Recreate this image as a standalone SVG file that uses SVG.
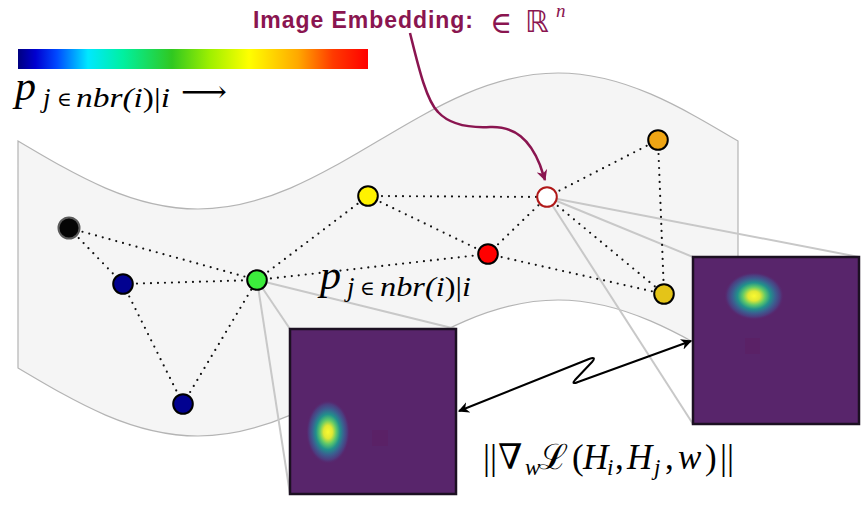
<svg xmlns="http://www.w3.org/2000/svg" width="863" height="508" viewBox="0 0 863 508">
<defs>
<linearGradient id="jet" x1="0" y1="0" x2="1" y2="0">
<stop offset="0" stop-color="#000080"/>
<stop offset="0.05" stop-color="#0000d0"/>
<stop offset="0.11" stop-color="#0048ff"/>
<stop offset="0.2" stop-color="#00e8ff"/>
<stop offset="0.3" stop-color="#00f0a0"/>
<stop offset="0.44" stop-color="#30c820"/>
<stop offset="0.55" stop-color="#a0f000"/>
<stop offset="0.66" stop-color="#ffff00"/>
<stop offset="0.8" stop-color="#ffa800"/>
<stop offset="0.9" stop-color="#ff3a00"/>
<stop offset="1" stop-color="#ff0000"/>
</linearGradient>
<radialGradient id="blob" cx="0.5" cy="0.5" r="0.5">
<stop offset="0" stop-color="#fafa30"/>
<stop offset="0.2" stop-color="#e0e834"/>
<stop offset="0.38" stop-color="#5ec86a"/>
<stop offset="0.55" stop-color="#21918c"/>
<stop offset="0.72" stop-color="#3b5e90"/>
<stop offset="0.88" stop-color="#4e3a7e"/>
<stop offset="1" stop-color="#58256b" stop-opacity="0"/>
</radialGradient>
<marker id="mhead" viewBox="0 0 10 10" refX="9" refY="5" markerWidth="11" markerHeight="11" markerUnits="userSpaceOnUse" orient="auto">
<path d="M0,0 L10,5 L0,10 L3,5 Z" fill="#8a1550"/>
</marker>
<marker id="bhead" viewBox="0 0 10 10" refX="9" refY="5" markerWidth="11" markerHeight="11" markerUnits="userSpaceOnUse" orient="auto-start-reverse">
<path d="M0,0 L10,5 L0,10 L3,5 Z" fill="#000"/>
</marker>
<style>
.dot{stroke:#111;stroke-width:2.2;stroke-dasharray:0 7;stroke-linecap:round;fill:none}
.zoom{stroke:#c8c8c8;stroke-width:2;fill:none}
.node{stroke:#000;stroke-width:2}
.box{fill:#58256b;stroke:#1c1022;stroke-width:2.5}
.math{font-family:"Liberation Serif","DejaVu Serif",serif;font-style:italic;fill:#000}
.rm{font-style:normal}
.sym{font-family:"DejaVu Serif","Liberation Serif",serif;font-style:normal}
</style>
</defs>
<rect width="863" height="508" fill="#fff"/>

<g id="manifold">
<path d="M18,141 C76.8,175.9 132.8,209 198,209 C263.2,209 319.2,175.9 378,141 C436.8,106.1 492.8,73 558,73 C623.2,73 679.2,106.1 738,141 L738,368 C679.2,333.1 623.2,300 558,300 C492.8,300 436.8,333.1 378,368 C319.2,402.9 263.2,436 198,436 C132.8,436 76.8,402.9 18,368 Z" fill="#f5f5f5" stroke="#b4b4b4" stroke-width="1.2"/>
</g>

<g id="colorbar">
<rect x="18" y="49" width="350" height="20" fill="url(#jet)"/>
</g>

<g id="connectors">
<line class="zoom" x1="257" y1="280" x2="290" y2="329"/>
<line class="zoom" x1="257" y1="280" x2="456" y2="329"/>
<line class="zoom" x1="257" y1="280" x2="290" y2="494"/>
<line class="zoom" x1="547" y1="197" x2="693" y2="257"/>
<line class="zoom" x1="547" y1="197" x2="859" y2="257"/>
<line class="zoom" x1="547" y1="197" x2="693" y2="424"/>
<line class="dot" x1="69" y1="228" x2="123" y2="284"/>
<line class="dot" x1="69" y1="228" x2="257" y2="280"/>
<line class="dot" x1="123" y1="284" x2="257" y2="280"/>
<line class="dot" x1="123" y1="284" x2="183" y2="404"/>
<line class="dot" x1="183" y1="404" x2="257" y2="280"/>
<line class="dot" x1="257" y1="280" x2="368" y2="196"/>
<line class="dot" x1="257" y1="280" x2="488" y2="254"/>
<line class="dot" x1="368" y1="196" x2="547" y2="197"/>
<line class="dot" x1="368" y1="196" x2="488" y2="254"/>
<line class="dot" x1="488" y1="254" x2="547" y2="197"/>
<line class="dot" x1="488" y1="254" x2="664" y2="294"/>
<line class="dot" x1="547" y1="197" x2="658" y2="140"/>
<line class="dot" x1="547" y1="197" x2="664" y2="294"/>
<line class="dot" x1="658" y1="140" x2="664" y2="294"/>
<path d="M410,33 C418,65 426,100 438,112 C450,125 470,128 490,127 C515,126 530,140 540,165 L545,180" fill="none" stroke="#8a1550" stroke-width="2.5" marker-end="url(#mhead)"/>
<path d="M459,411 L589,359 Q597,356 592,362 L575,380 Q571,385 578,382 L691,341" fill="none" stroke="#000" stroke-width="2" marker-start="url(#bhead)" marker-end="url(#bhead)"/>
</g>

<g id="n-black"><circle cx="69" cy="228" r="10.5" fill="#050505" stroke="#5a5a5a" stroke-width="2"/></g>
<g id="n-blue1"><circle class="node" cx="123" cy="284" r="9.8" fill="#020290"/></g>
<g id="n-green"><circle class="node" cx="257" cy="280" r="9.8" fill="#3cec3c"/></g>
<g id="n-blue2"><circle class="node" cx="183" cy="404" r="9.8" fill="#020290"/></g>
<g id="n-yellow"><circle class="node" cx="368" cy="196" r="9.8" fill="#fff200"/></g>
<g id="n-red"><circle class="node" cx="488" cy="254" r="9.8" fill="#ff0000"/></g>
<g id="n-white"><circle cx="547" cy="197" r="9.8" fill="#fff" stroke="#b01818" stroke-width="2"/></g>
<g id="n-orange"><circle class="node" cx="658" cy="140" r="9.8" fill="#efa514"/></g>
<g id="n-gold"><circle class="node" cx="664" cy="294" r="9.8" fill="#e4c418"/></g>

<g id="image1">
<rect class="box" x="290" y="329" width="166" height="165"/>
<rect x="372" y="430" width="16" height="16" fill="#5c1f62" opacity="0.6"/>
<ellipse cx="328" cy="432" rx="22" ry="32" fill="url(#blob)"/>
</g>
<g id="image2">
<rect class="box" x="693" y="257" width="166" height="167"/>
<rect x="745" y="338" width="15" height="16" fill="#5c1f62" opacity="0.6"/>
<ellipse cx="754" cy="296" rx="30" ry="24" fill="url(#blob)"/>
</g>

<g id="label-embedding">
<text x="253" y="28" font-family="Liberation Sans, Arial, sans-serif" font-weight="bold" font-size="23" fill="#8a1550" textLength="220">Image Embedding:</text>
<text x="490" y="33" font-family="DejaVu Serif, serif" font-size="30" fill="#8a1550">∈</text>
<text x="525" y="32" font-family="DejaVu Sans, sans-serif" font-size="30" fill="#8a1550">ℝ</text>
<text x="556" y="17" font-family="Liberation Serif, serif" font-style="italic" font-size="19" fill="#8a1550">n</text>
</g>

<g id="label-colorbar">
<text class="math" x="15" y="100" font-size="42">p</text>
<text class="math" x="43" y="107" font-size="27">j</text>
<text class="math sym" x="57" y="106" font-size="20">∈</text>
<text class="math" x="76" y="107" font-size="27" textLength="94" lengthAdjust="spacingAndGlyphs">nbr(i<tspan class="rm">)|</tspan>i</text>
<text class="sym" x="181" y="102" font-size="30" textLength="46" lengthAdjust="spacingAndGlyphs">⟶</text>
</g>

<g id="label-edge">
<text class="math" x="320" y="289" font-size="42">p</text>
<text class="math" x="347" y="296" font-size="27">j</text>
<text class="math sym" x="360" y="295" font-size="20">∈</text>
<text class="math" x="380" y="296" font-size="27" textLength="91" lengthAdjust="spacingAndGlyphs">nbr(i<tspan class="rm">)|</tspan>i</text>
</g>

<g id="label-loss">
<text class="math" y="469" font-size="35"><tspan class="rm" x="483">||</tspan><tspan class="sym" x="498">∇</tspan><tspan x="525" y="475" font-size="23">w</tspan><tspan class="sym" x="539" y="469" font-style="italic">ℒ</tspan><tspan class="rm" x="572">(</tspan><tspan x="583">H</tspan><tspan x="607" y="475" font-size="23">i</tspan><tspan class="rm" x="615" y="469">,</tspan><tspan x="627">H</tspan><tspan x="654" y="475" font-size="23">j</tspan><tspan class="rm" x="665" y="469">,</tspan><tspan x="678">w</tspan><tspan class="rm" x="705">)</tspan><tspan class="rm" x="720">||</tspan></text>
</g>
</svg>
